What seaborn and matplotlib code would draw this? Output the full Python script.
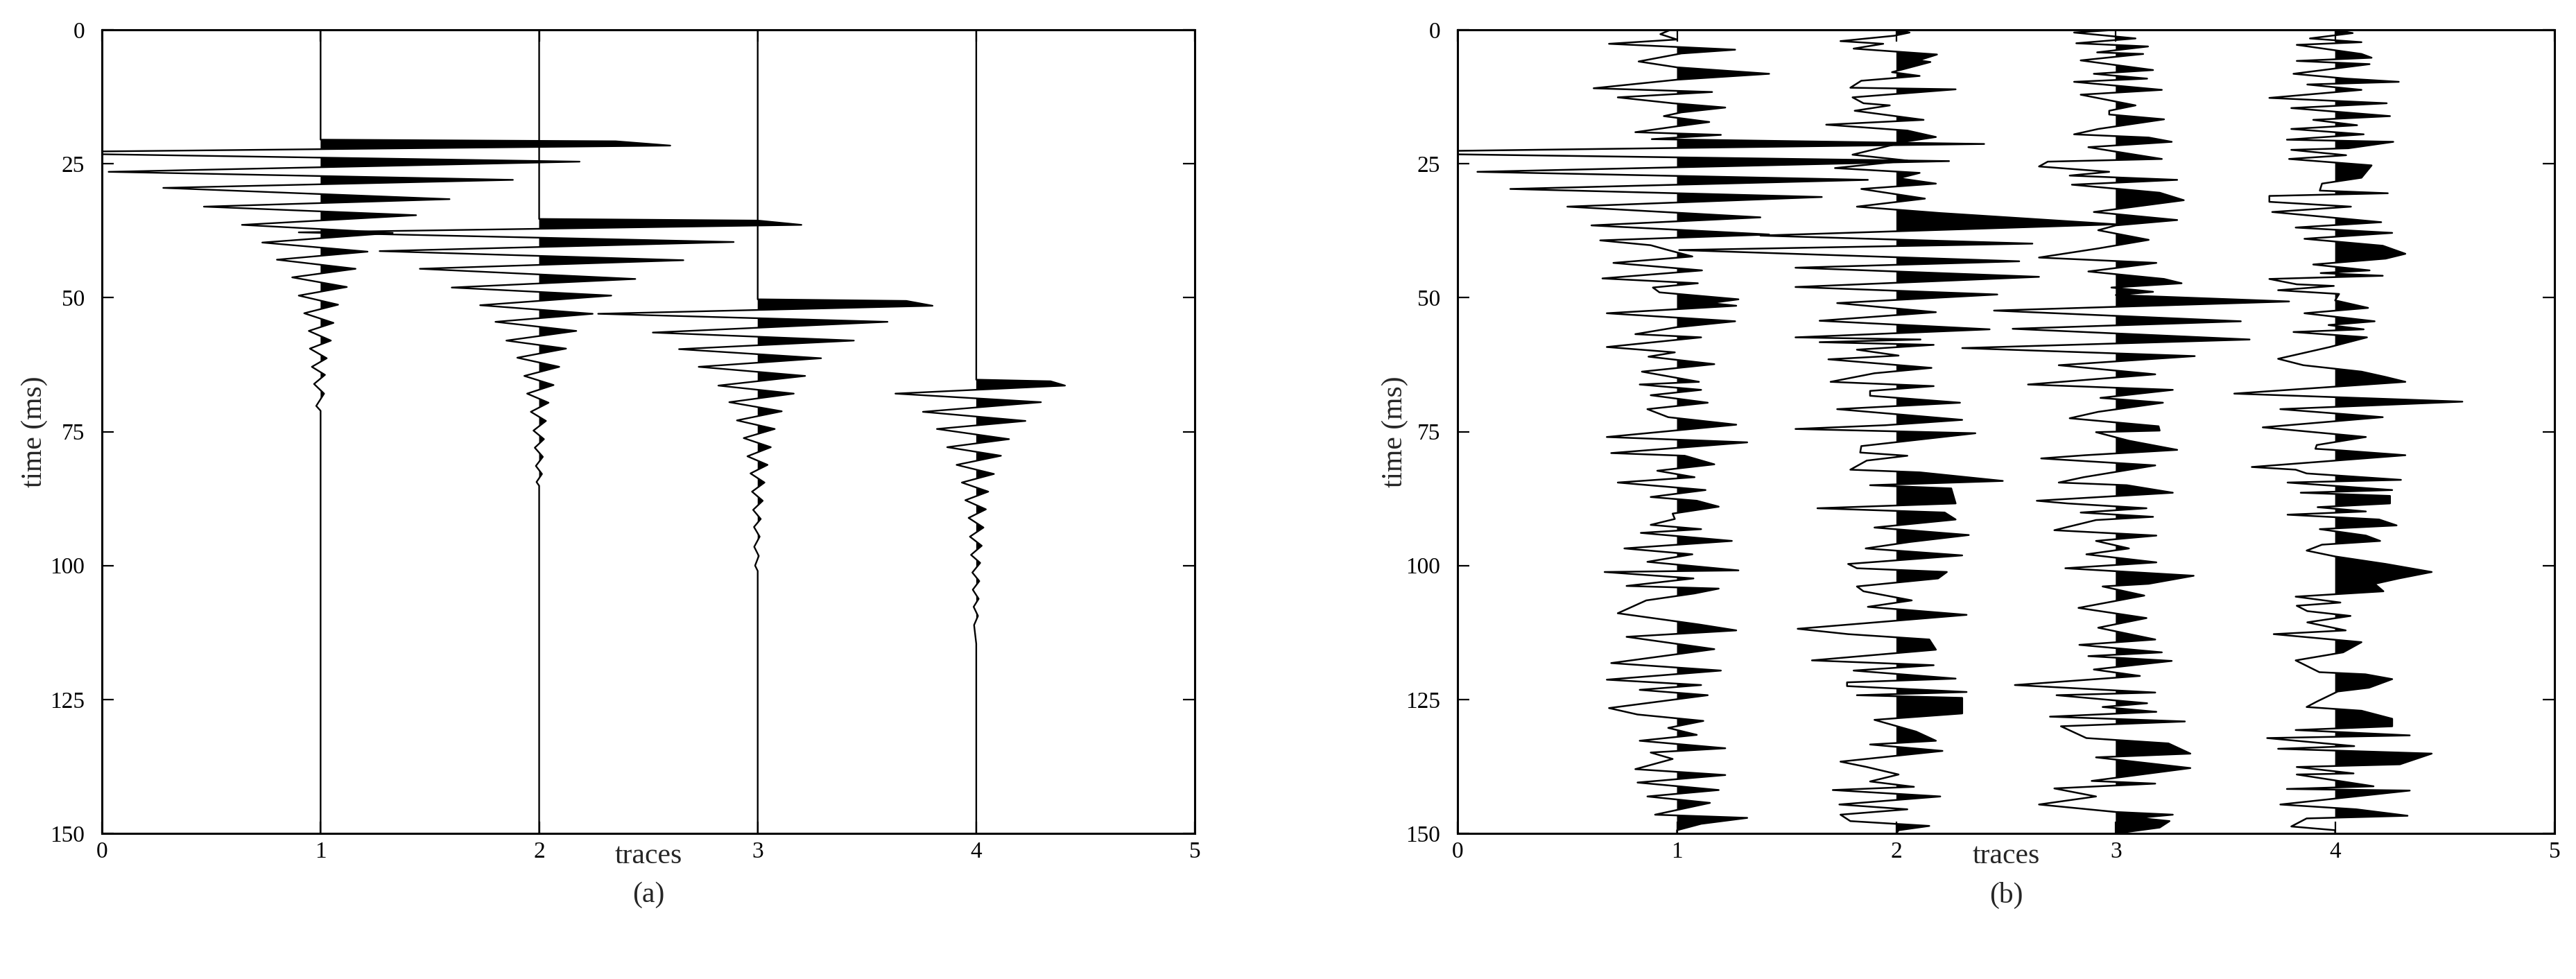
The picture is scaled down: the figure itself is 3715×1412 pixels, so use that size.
import numpy as np
import seaborn as sns
import matplotlib.pyplot as plt

# ---- data: turning points of each trace, time (ms) and amplitude (trace units) ----
# panel (a): clean wavelets
a1_t = [0, 20.5, 20.8, 21.6, 22.9, 24.6, 26.5, 28.0, 29.5, 31.6, 33.0, 34.6, 36.4, 37.9, 39.7, 41.4,
        42.9, 44.6, 46.2, 48.0, 49.6, 51.3, 52.9, 54.7, 56.2, 58.0, 59.5, 61.3, 62.9, 64.4, 66.1,
        67.9, 70.2, 71.1, 150]
a1_x = [0, 0, 1.35, 1.60, -1.5, 1.185, -0.97, 0.88, -0.72, 0.59, -0.534, 0.437, -0.36, 0.33, -0.267,
        0.215, -0.20, 0.16, -0.13, 0.12, -0.10, 0.08, -0.075, 0.059, -0.054, 0.047, -0.049, 0.028,
        -0.04, 0.02, -0.03, 0.016, -0.02, 0, 0]

a2_t = [0, 35.3, 35.6, 36.4, 37.8, 39.6, 41.3, 43.0, 44.6, 46.5, 48.1, 49.6, 51.4, 53.0, 54.5, 56.2,
        58.0, 59.5, 61.2, 62.9, 64.6, 66.3, 67.9, 69.6, 71.3, 73.0, 74.8, 76.4, 78.0, 79.7, 81.4,
        82.9, 84.4, 85.1, 150]
a2_x = [0, 0, 1.0, 1.20, -1.1, 0.89, -0.73, 0.66, -0.546, 0.44, -0.40, 0.33, -0.27, 0.245, -0.20,
        0.17, -0.15, 0.123, -0.10, 0.092, -0.068, 0.066, -0.055, 0.043, -0.038, 0.031, -0.026, 0.022,
        -0.02, 0.017, -0.015, 0.013, -0.012, 0, 0]

a3_t = [0, 50.3, 50.6, 51.5, 53.0, 54.5, 56.5, 58.0, 59.6, 61.3, 62.9, 64.6, 66.4, 67.9, 69.5, 71.2,
        72.9, 74.5, 76.2, 77.9, 79.6, 81.2, 82.8, 84.5, 86.2, 87.9, 89.6, 91.3, 92.8, 94.6, 96.5,
        98.2, 100.0, 101.0, 150]
a3_x = [0, 0, 0.68, 0.80, -0.73, 0.594, -0.48, 0.44, -0.36, 0.29, -0.27, 0.217, -0.18, 0.165, -0.13,
        0.11, -0.095, 0.078, -0.064, 0.06, -0.047, 0.045, -0.033, 0.031, -0.026, 0.023, -0.021, 0.014,
        -0.017, 0.009, -0.016, 0.005, -0.012, 0, 0]

a4_t = [0, 65.3, 65.6, 66.4, 67.9, 69.5, 71.3, 73.0, 74.5, 76.4, 77.9, 79.5, 81.2, 82.9, 84.5, 86.2,
        87.8, 89.5, 91.1, 92.9, 94.6, 96.3, 98.0, 99.5, 101.3, 102.9, 104.5, 106.2, 107.7, 109.4,
        111.1, 114.6, 150]
a4_x = [0, 0, 0.34, 0.406, -0.37, 0.296, -0.244, 0.225, -0.18, 0.15, -0.133, 0.113, -0.09, 0.081,
        -0.066, 0.055, -0.05, 0.044, -0.035, 0.033, -0.029, 0.025, -0.024, 0.018, -0.018, 0.014,
        -0.016, 0.011, -0.012, 0.008, -0.01, 0, 0]

# panel (b): noisy traces
b1_t = [0.0, 0.8, 1.8, 2.6, 3.7, 4.4, 5.9, 7.0, 8.2, 9.3, 10.9, 11.6, 12.6, 13.7, 14.5, 15.4, 16.1,
        17.2, 18.0, 19.1, 19.6, 20.4, 21.3, 22.9, 24.5, 26.5, 28.0, 29.7, 31.2, 33.0, 35.0, 36.5,
        38.2, 39.3, 40.2, 41.0, 42.3, 43.5, 44.9, 46.4, 47.3, 48.1, 49.0, 50.3, 51.0, 51.5, 52.9,
        54.4, 55.5, 56.8, 57.4, 59.2, 60.2, 61.0, 62.4, 63.8, 65.7, 66.2, 67.2, 68.2, 69.6, 70.8,
        72.3, 73.7, 76.0, 77.0, 79.0, 79.5, 81.1, 82.3, 83.5, 84.5, 85.9, 87.2, 87.9, 89.0, 90.3,
        91.3, 92.4, 93.2, 93.9, 95.4, 96.8, 97.9, 99.3, 100.9, 101.2, 102.4, 103.8, 104.3, 105.2,
        106.5, 108.9, 111.0, 112.1, 113.3, 115.6, 118.2, 119.6, 121.3, 122.3, 123.2, 124.2, 126.6,
        127.8, 129.0, 130.3, 131.6, 132.7, 134.1, 134.9, 136.1, 138.0, 139.1, 140.5, 141.9, 143.1,
        144.3, 146.5, 147.1, 148.2, 149.4, 150.0]
b1_x = [-0.03, -0.076, 0.0, -0.31, 0.265, 0.02, -0.175, 0.0, 0.42, 0.0, -0.38, 0.16, -0.27, -0.02,
        0.22, 0.02, -0.06, 0.147, 0.0, -0.19, 0.20, -0.115, 1.40, -1.6, 1.24, -0.91, 0.87, -0.76,
        0.66, -0.50, 0.38, -0.39, 0.42, -0.35, -0.12, -0.05, 0.07, -0.29, 0.114, -0.34, 0.095, -0.11,
        -0.08, 0.28, 0.15, 0.27, -0.32, 0.265, 0.0, -0.19, 0.11, -0.32, -0.01, -0.13, 0.17, -0.16,
        0.10, -0.17, 0.11, -0.12, 0.14, -0.135, -0.04, 0.27, -0.32, 0.32, -0.30, 0.035, 0.17, -0.09,
        0.08, -0.27, 0.13, -0.12, 0.09, 0.19, -0.02, -0.01, -0.12, 0.11, -0.165, 0.25, -0.24, 0.07,
        -0.135, 0.28, -0.33, 0.075, -0.23, 0.19, 0.08, -0.14, -0.27, 0.10, 0.27, -0.23, 0.17, -0.30,
        0.20, -0.32, 0.11, -0.17, 0.14, -0.31, -0.18, 0.12, -0.04, 0.09, -0.17, 0.22, -0.12, -0.02,
        -0.19, 0.22, -0.18, 0.19, -0.135, 0.15, -0.10, 0.32, 0.11, 0.0, 0.0]

b2_t = [0.0, 0.5, 1.1, 2.1, 2.6, 3.5, 4.6, 5.7, 6.0, 7.9, 8.6, 9.5, 10.8, 11.1, 12.6, 13.7, 14.1,
        15.1, 16.8, 17.7, 18.8, 20.0, 20.8, 21.3, 22.5, 23.3, 24.4, 25.8, 26.7, 27.7, 28.7, 29.7,
        31.5, 33.0, 34.2, 36.3, 38.4, 39.9, 41.1, 43.2, 44.4, 46.1, 48.0, 49.4, 51.0, 52.7, 54.3,
        55.9, 57.4, 57.8, 58.3, 58.8, 59.7, 60.8, 61.5, 63.1, 64.1, 65.7, 66.5, 67.4, 68.3, 69.6,
        70.8, 72.8, 73.8, 74.5, 75.3, 77.7, 78.9, 79.5, 80.4, 82.1, 82.6, 84.2, 85.0, 85.6, 88.4,
        89.3, 90.1, 91.4, 92.9, 94.3, 95.6, 96.8, 98.1, 99.7, 100.5, 101.2, 102.4, 103.9, 104.8,
        106.5, 107.7, 109.2, 111.8, 112.8, 113.8, 115.7, 117.7, 118.6, 119.6, 121.1, 121.8, 122.5,
        123.6, 124.2, 124.7, 127.6, 128.8, 131.0, 132.7, 133.4, 134.6, 136.6, 137.6, 139.0, 140.3,
        141.3, 141.9, 143.1, 144.6, 145.5, 146.5, 147.7, 148.6, 149.4, 150.0]
b2_x = [0.0, 0.06, -0.01, -0.255, -0.06, -0.195, 0.185, 0.10, 0.155, -0.02, 0.106, -0.16, -0.21,
        0.27, -0.20, -0.15, -0.03, -0.19, 0.124, -0.32, 0.05, 0.18, 0.05, 0.0, -0.12, -0.20, 0.05,
        -0.28, 0.106, 0.01, 0.18, -0.16, 0.13, -0.18, 0.20, 1.00, -0.62, 0.62, -0.99, 0.56, -0.46,
        0.65, -0.46, 0.46, -0.27, 0.18, -0.35, 0.425, -0.46, 0.11, -0.35, 0.17, -0.18, 0.01, -0.31,
        0.16, -0.10, -0.30, 0.17, -0.12, -0.12, 0.29, -0.27, 0.30, -0.05, -0.46, 0.36, -0.16, -0.165,
        0.05, -0.135, -0.21, 0.106, 0.485, -0.12, 0.25, 0.27, -0.36, 0.22, 0.27, -0.10, 0.33, 0.06,
        -0.14, 0.30, -0.22, -0.18, 0.23, 0.19, -0.18, -0.15, 0.07, -0.13, 0.32, -0.45, -0.22, 0.15,
        0.18, -0.385, 0.17, -0.195, 0.27, -0.225, -0.225, 0.32, -0.18, 0.30, 0.30, -0.10, 0.09, 0.18,
        -0.12, 0.21, -0.255, -0.135, 0.01, -0.12, 0.08, -0.29, 0.20, -0.26, 0.05, -0.255, -0.21,
        0.15, 0.01, 0.0]

b3_t = [0.0, 0.5, 1.6, 2.5, 3.1, 4.2, 4.5, 5.7, 7.5, 8.2, 9.1, 9.7, 11.2, 12.1, 14.1, 15.1, 15.8,
        16.7, 18.5, 19.5, 20.1, 20.9, 21.9, 22.6, 24.1, 24.6, 25.5, 26.5, 27.2, 28.0, 28.9, 30.4,
        31.8, 34.0, 35.5, 36.5, 37.4, 39.2, 40.8, 42.5, 43.5, 45.1, 46.5, 47.3, 48.1, 48.9, 49.5,
        50.7, 52.4, 54.4, 55.8, 57.8, 59.4, 60.9, 62.6, 64.3, 66.2, 67.2, 68.7, 69.6, 71.3, 72.5,
        74.0, 74.8, 75.1, 76.7, 78.4, 79.4, 80.0, 81.3, 83.5, 84.5, 85.0, 86.4, 87.9, 88.4, 89.3,
        90.1, 90.9, 91.5, 93.4, 94.4, 95.4, 96.8, 97.9, 99.4, 100.5, 101.9, 103.4, 103.9, 105.6,
        107.9, 109.8, 111.6, 113.8, 114.8, 116.2, 116.9, 117.8, 119.4, 120.6, 122.3, 123.7, 124.2,
        125.7, 126.4, 127.3, 128.2, 129.1, 130.0, 132.2, 133.2, 135.1, 135.8, 137.8, 140.2, 140.7,
        141.6, 143.1, 144.6, 146.0, 146.5, 147.1, 147.7, 148.9, 150.0]
b3_x = [0.0, -0.19, 0.09, -0.18, 0.147, -0.085, 0.125, -0.16, 0.17, -0.10, 0.143, -0.19, 0.21,
        -0.16, 0.09, -0.03, -0.03, 0.22, -0.08, -0.19, 0.15, 0.255, -0.125, -0.02, 0.21, -0.31,
        -0.35, -0.03, -0.21, 0.28, -0.20, 0.20, 0.31, -0.10, 0.28, 0.0, -0.08, 0.15, -0.08, -0.35,
        0.185, -0.125, 0.22, 0.30, -0.02, 0.17, 0.0, 0.79, -0.555, 0.57, -0.47, 0.61, -0.70, 0.36,
        -0.26, 0.18, -0.40, 0.26, -0.07, 0.215, -0.08, -0.21, 0.195, 0.20, -0.09, 0.06, 0.28, -0.14,
        -0.34, 0.18, -0.146, -0.26, 0.05, 0.26, -0.36, -0.22, 0.14, -0.16, 0.17, -0.09, -0.28, 0.185,
        -0.09, 0.06, -0.134, 0.185, -0.23, 0.355, 0.15, -0.06, 0.13, -0.17, 0.14, -0.08, 0.18,
        -0.166, 0.21, -0.125, 0.255, -0.10, 0.11, -0.46, 0.18, -0.27, 0.143, -0.06, 0.185, -0.30,
        0.315, -0.25, -0.134, 0.24, 0.34, -0.09, 0.34, -0.11, 0.18, -0.28, -0.09, -0.35, 0.0, 0.26,
        0.10, 0.245, 0.20, 0.0]

b4_t = [0.0, 0.6, 1.6, 2.3, 2.8, 4.5, 5.2, 5.8, 6.4, 8.2, 9.1, 9.7, 10.2, 11.2, 12.7, 13.7, 14.6,
        16.1, 16.8, 17.8, 18.5, 19.5, 20.5, 20.9, 22.1, 22.4, 23.4, 24.1, 25.3, 27.6, 28.7, 30.0,
        30.5, 31.0, 32.1, 33.0, 34.0, 35.9, 36.9, 37.9, 39.0, 40.3, 41.8, 42.7, 43.8, 44.9, 45.4,
        45.9, 46.5, 47.5, 47.8, 48.6, 49.3, 50.5, 51.9, 52.9, 54.4, 55.1, 55.9, 56.4, 57.4, 59.2,
        61.4, 62.6, 63.8, 64.8, 65.7, 67.9, 69.4, 70.8, 72.3, 74.2, 76.0, 77.5, 78.2, 78.4, 79.4,
        81.6, 82.1, 82.8, 84.0, 84.5, 85.9, 86.4, 87.0, 88.4, 89.1, 89.9, 90.5, 91.4, 92.5, 93.2,
        94.4, 95.4, 96.1, 97.2, 98.3, 99.7, 101.2, 102.4, 103.4, 104.8, 105.8, 106.9, 107.5, 108.5,
        109.4, 110.6, 112.1, 112.8, 114.3, 116.2, 117.7, 119.9, 120.3, 121.2, 122.8, 123.5, 125.4,
        126.4, 127.1, 128.6, 130.0, 130.7, 131.7, 132.2, 133.7, 134.2, 135.1, 137.1, 137.6, 138.8,
        139.0, 141.2, 141.7, 142.0, 144.6, 145.5, 146.7, 147.2, 148.7, 149.4, 150.0]
b4_x = [0.0, 0.08, -0.115, 0.12, -0.175, 0.12, 0.166, -0.175, 0.157, -0.19, 0.05, 0.29, -0.127,
        0.12, -0.30, 0.235, -0.20, 0.25, -0.10, 0.10, -0.20, 0.13, -0.22, 0.265, 0.06, -0.20, 0.05,
        -0.21, 0.166, 0.12, -0.06, -0.07, 0.24, -0.30, -0.30, 0.072, -0.287, 0.21, -0.18, 0.26,
        -0.14, 0.217, 0.32, 0.23, -0.10, 0.157, -0.066, 0.217, -0.30, -0.175, -0.006, -0.26, 0.018,
        0.0, 0.15, -0.14, 0.18, -0.03, 0.13, -0.19, 0.145, -0.024, -0.26, -0.145, 0.12, 0.23, 0.32,
        -0.46, 0.58, -0.25, 0.217, -0.33, 0.14, -0.084, -0.09, -0.01, 0.32, -0.38, -0.18, -0.13,
        0.30, -0.217, 0.26, -0.157, 0.25, 0.25, -0.08, 0.14, -0.217, 0.20, 0.28, -0.07, 0.14, 0.205,
        -0.06, -0.13, 0.0, 0.23, 0.44, 0.29, 0.18, 0.22, -0.18, 0.024, -0.175, -0.127, 0.07, -0.127,
        0.048, -0.28, 0.12, 0.036, -0.18, -0.072, 0.138, 0.26, 0.154, 0.012, -0.084, -0.13, 0.12,
        0.26, 0.26, -0.18, 0.34, -0.31, 0.087, -0.26, 0.44, 0.295, -0.175, 0.084, -0.175, 0.175,
        -0.22, 0.34, -0.25, 0.096, 0.33, -0.13, -0.20, 0.0, 0.0]

trace_pos = [1, 2, 3, 4]
time_ticks = [0, 25, 50, 75, 100, 125, 150]
trace_ticks = [0, 1, 2, 3, 4, 5]
panels = [("(a)", [(a1_t, a1_x), (a2_t, a2_x), (a3_t, a3_x), (a4_t, a4_x)]),
          ("(b)", [(b1_t, b1_x), (b2_t, b2_x), (b3_t, b3_x), (b4_t, b4_x)])]

sns.set_theme(style="ticks")
plt.rcParams["font.family"] = ["Liberation Serif", "DejaVu Serif"]


def draw_trace(ax, t, amp, offset, lw):
    t = np.asarray(t, dtype=float)
    x = offset + np.asarray(amp, dtype=float)
    sns.lineplot(x=x, y=t, sort=False, estimator=None, color="black", lw=lw, ax=ax)
    ax.fill_betweenx(t, offset, x, where=x > offset, interpolate=True, color="black", lw=0)


fig = plt.figure(figsize=(18.58, 7.06), dpi=200)
boxes = [[0.0396, 0.1487, 0.4241, 0.8208], [0.5657, 0.1487, 0.4257, 0.8208]]
ylab_x = [-0.062, -0.057]

for (caption, traces), box, yl in zip(panels, boxes, ylab_x):
    ax = fig.add_axes(box)
    lw = 0.85 if caption == "(a)" else 0.9
    for pos, (t, amp) in zip(trace_pos, traces):
        draw_trace(ax, t, amp, pos, lw)
    ax.set_xlim(0, 5)
    ax.set_ylim(150, 0)
    ax.set_xticks(trace_ticks)
    ax.set_yticks(time_ticks)
    ax.tick_params(direction="in", top=True, right=True, length=6, width=0.8,
                   labelsize=12, colors="black")
    ax.tick_params(axis="x", pad=4)
    ax.tick_params(axis="y", pad=9)
    for sp in ax.spines.values():
        sp.set_linewidth(1.1)
        sp.set_color("black")
    ax.set_xlabel("traces", fontsize=15)
    ax.xaxis.set_label_coords(0.5, -0.0285)
    ax.xaxis.label.set_va("center")
    ax.set_ylabel("time (ms)", fontsize=15)
    ax.yaxis.set_label_coords(yl, 0.5)
    ax.yaxis.label.set_va("center")
    fig.text(box[0] + box[2] / 2, 0.0857, caption, ha="center", va="center", fontsize=15)

fig.savefig("out.png", dpi=200, facecolor="white")
